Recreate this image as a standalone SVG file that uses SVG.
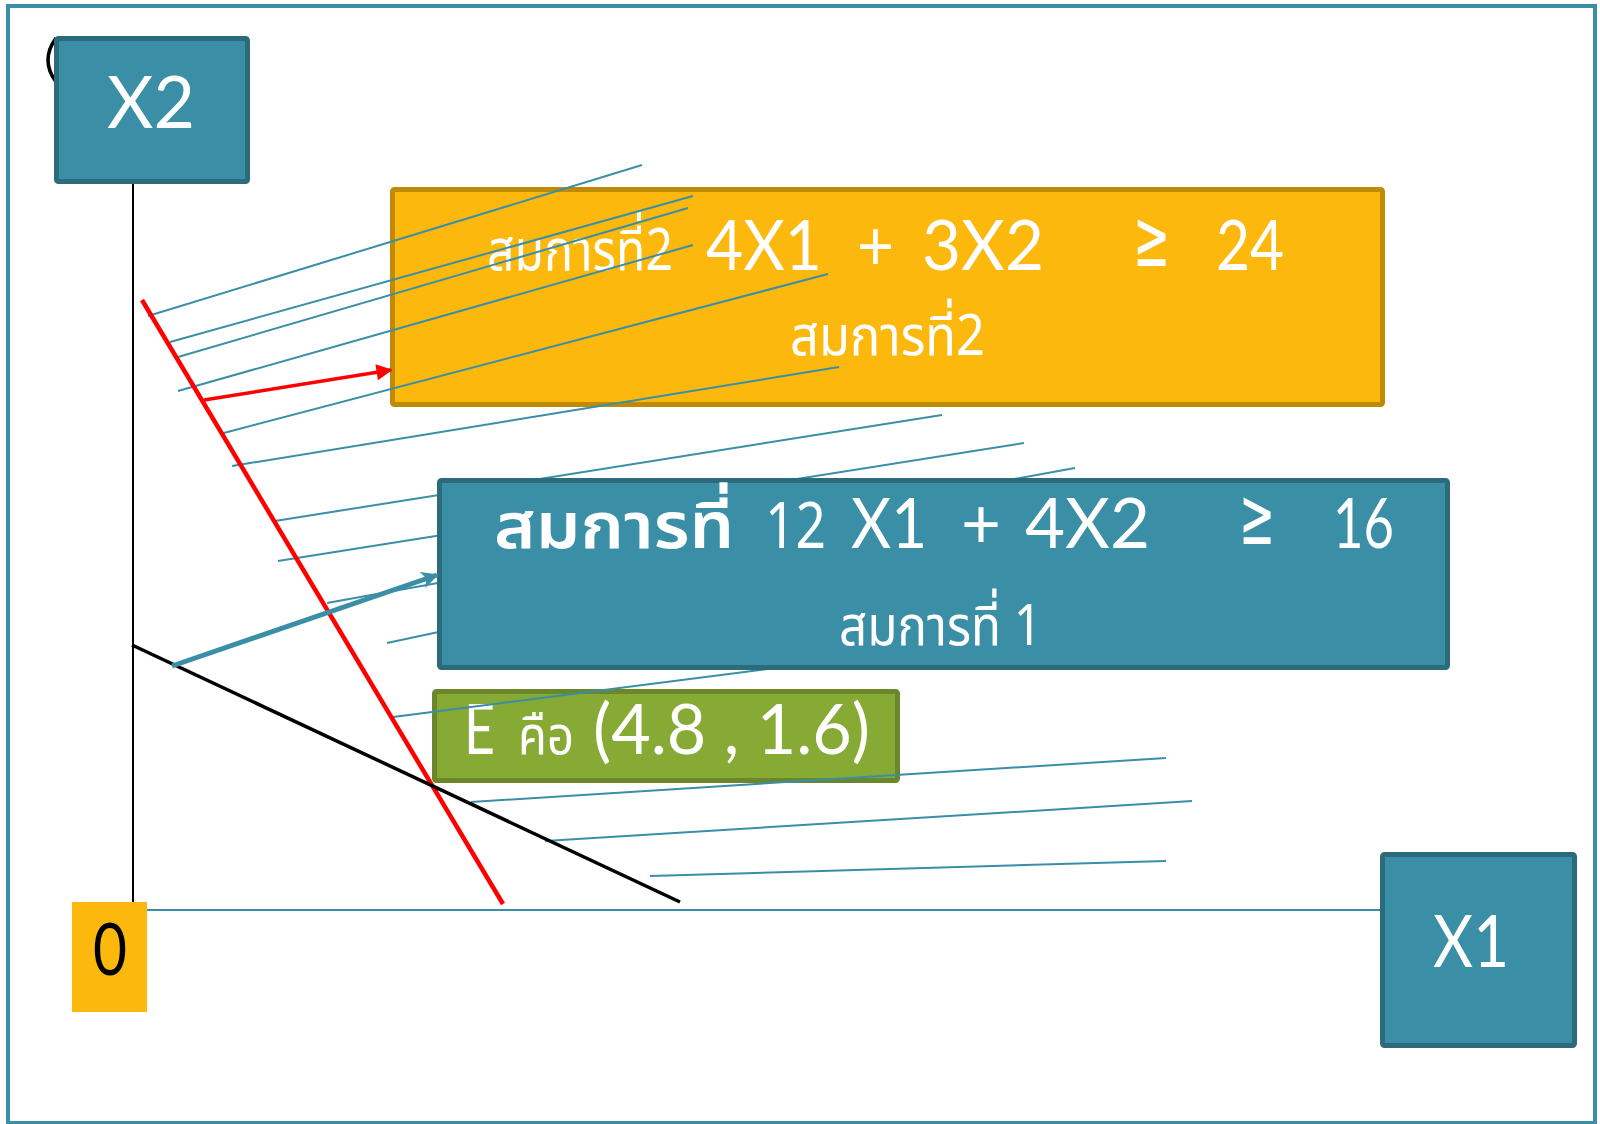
<svg xmlns="http://www.w3.org/2000/svg" width="1600" height="1124" viewBox="0 0 1600 1124">
  <style>
    .lat { font-family: Lato, "Open Sans", "Liberation Sans", sans-serif; fill: #ffffff; }
    .thai { font-family: "Noto Sans Thai", "Noto Sans", "DejaVu Sans", sans-serif; fill: #ffffff; }
    .ge { font-family: "DejaVu Sans", "Liberation Sans", sans-serif; fill: #ffffff; }
    .teal { fill: #3A8FA6; stroke: #2B6B7C; stroke-width: 5; }
    .hatch { stroke: #3A8FA6; stroke-width: 2; fill: none; }
  </style>
  <defs>
    <marker id="headRed" viewBox="0 0 10 10" refX="9" refY="5" markerWidth="5" markerHeight="4.6" orient="auto" markerUnits="strokeWidth">
      <path d="M0,0 L10,5 L0,10 Z" fill="#FF0000"/>
    </marker>
    <marker id="headTeal" viewBox="0 0 10 10" refX="9" refY="5" markerWidth="4.4" markerHeight="3.4" orient="auto" markerUnits="strokeWidth">
      <path d="M0,0 L10,5 L0,10 L2.5,5 Z" fill="#3A8FA6"/>
    </marker>
  </defs>

  <rect width="1600" height="1124" fill="#ffffff"/>
  <!-- slide frame -->
  <rect x="8" y="6" width="1587" height="1117" fill="none" stroke="#3A8FA6" stroke-width="4"/>

  <!-- constraint 2 label -->
  <g id="eq2">
    <rect x="392.5" y="189.5" width="990" height="215" rx="2" fill="#FDB80E" stroke="#BF8A05" stroke-width="5"/>
    <text class="thai" x="487" y="270" font-size="58" textLength="186" lengthAdjust="spacingAndGlyphs">สมการที่2</text>
    <text class="lat" x="706" y="270" font-size="70" textLength="116" lengthAdjust="spacingAndGlyphs">4X1</text>
    <text class="lat" x="857" y="270" font-size="70" textLength="37" lengthAdjust="spacingAndGlyphs">+</text>
    <text class="lat" x="922" y="270" font-size="70" textLength="122" lengthAdjust="spacingAndGlyphs">3X2</text>
    <text class="ge" x="1133" y="266" font-size="80" textLength="37" lengthAdjust="spacingAndGlyphs">≥</text>
    <text class="lat" x="1216" y="270" font-size="70" textLength="68" lengthAdjust="spacingAndGlyphs">24</text>
    <text class="thai" x="790" y="355" font-size="56" textLength="195" lengthAdjust="spacingAndGlyphs">สมการที่2</text>
  </g>

  <!-- intersection point label -->
  <g id="pointE">
    <rect x="434.5" y="691.5" width="463" height="89" rx="2" fill="#87AA35" stroke="#6B862B" stroke-width="5"/>
    <text class="lat" x="464" y="754" font-size="70" textLength="31" lengthAdjust="spacingAndGlyphs">E</text>
    <text class="thai" x="518" y="754" font-size="54" textLength="56" lengthAdjust="spacingAndGlyphs">คือ</text>
    <text class="lat" x="593" y="754" font-size="70" textLength="277" lengthAdjust="spacingAndGlyphs">(4.8 , 1.6)</text>
  </g>

  <!-- feasible-region shading -->
  <g id="hatching" class="hatch">
    <line x1="148" y1="316" x2="642" y2="165"/>
    <line x1="170" y1="342" x2="693" y2="196"/>
    <line x1="178" y1="357" x2="688" y2="208"/>
    <line x1="178" y1="391" x2="693" y2="245"/>
    <line x1="220" y1="434" x2="828" y2="274"/>
    <line x1="232" y1="466" x2="839" y2="367"/>
    <line x1="275" y1="521" x2="942" y2="415"/>
    <line x1="278" y1="561" x2="1024" y2="443"/>
    <line x1="327" y1="603" x2="1075" y2="468"/>
    <line x1="387" y1="643" x2="700" y2="576"/>
    <line x1="393" y1="717" x2="900" y2="652"/>
    <line x1="471" y1="802" x2="1166" y2="758"/>
    <line x1="545" y1="841" x2="1192" y2="801"/>
    <line x1="650" y1="876" x2="1166" y2="861"/>
  </g>

  <!-- constraint 1 label -->
  <g id="eq1">
    <rect x="439.5" y="480.5" width="1008" height="187" rx="2" class="teal"/>
    <text class="thai" x="494" y="548" font-size="64" font-weight="600" textLength="240" lengthAdjust="spacingAndGlyphs">สมการที่</text>
    <text class="thai" x="765" y="548" font-size="64" textLength="61" lengthAdjust="spacingAndGlyphs">12</text>
    <text class="lat" x="851" y="548" font-size="70" textLength="76" lengthAdjust="spacingAndGlyphs">X1</text>
    <text class="lat" x="961" y="548" font-size="70" textLength="40" lengthAdjust="spacingAndGlyphs">+</text>
    <text class="lat" x="1025" y="548" font-size="70" textLength="125" lengthAdjust="spacingAndGlyphs">4X2</text>
    <text class="ge" x="1239" y="544" font-size="80" textLength="36" lengthAdjust="spacingAndGlyphs">≥</text>
    <text class="lat" x="1333" y="548" font-size="70" textLength="61" lengthAdjust="spacingAndGlyphs">16</text>
    <text class="thai" x="839" y="645" font-size="56" textLength="203" lengthAdjust="spacingAndGlyphs">สมการที่ 1</text>
  </g>

  <!-- axes, constraint lines and direction arrows -->
  <g id="connectors" fill="none">
    <line x1="133" y1="184" x2="133" y2="903" stroke="#000000" stroke-width="2"/>
    <line x1="147" y1="910" x2="1381" y2="910" stroke="#3A8FA6" stroke-width="2"/>
    <line x1="142" y1="300" x2="503" y2="904" stroke="#FF0000" stroke-width="4.5"/>
    <line x1="132" y1="645" x2="680" y2="902" stroke="#000000" stroke-width="3.5"/>
    <line x1="204" y1="400" x2="391" y2="370" stroke="#FF0000" stroke-width="3.5" marker-end="url(#headRed)"/>
    <line x1="172" y1="666" x2="437" y2="575" stroke="#3A8FA6" stroke-width="5" marker-end="url(#headTeal)"/>
    <path d="M56,38 Q40,60 56,82" stroke="#000000" stroke-width="3.5"/>
  </g>

  <g id="axisX2">
    <rect x="56.5" y="38.5" width="191" height="143" rx="2" class="teal"/>
    <text class="lat" x="107" y="128" font-size="72" textLength="88" lengthAdjust="spacingAndGlyphs">X2</text>
  </g>

  <g id="axisX1">
    <rect x="1382.5" y="854.5" width="192" height="191" rx="2" class="teal"/>
    <text class="lat" x="1433" y="967" font-size="72" textLength="76" lengthAdjust="spacingAndGlyphs">X1</text>
  </g>

  <g id="origin">
    <rect x="72" y="902" width="75" height="110" fill="#FDB80E"/>
    <text x="93" y="975" font-size="72" font-family="Lato, 'Open Sans', 'Liberation Sans', sans-serif" fill="#000000" textLength="34" lengthAdjust="spacingAndGlyphs">0</text>
  </g>
</svg>
